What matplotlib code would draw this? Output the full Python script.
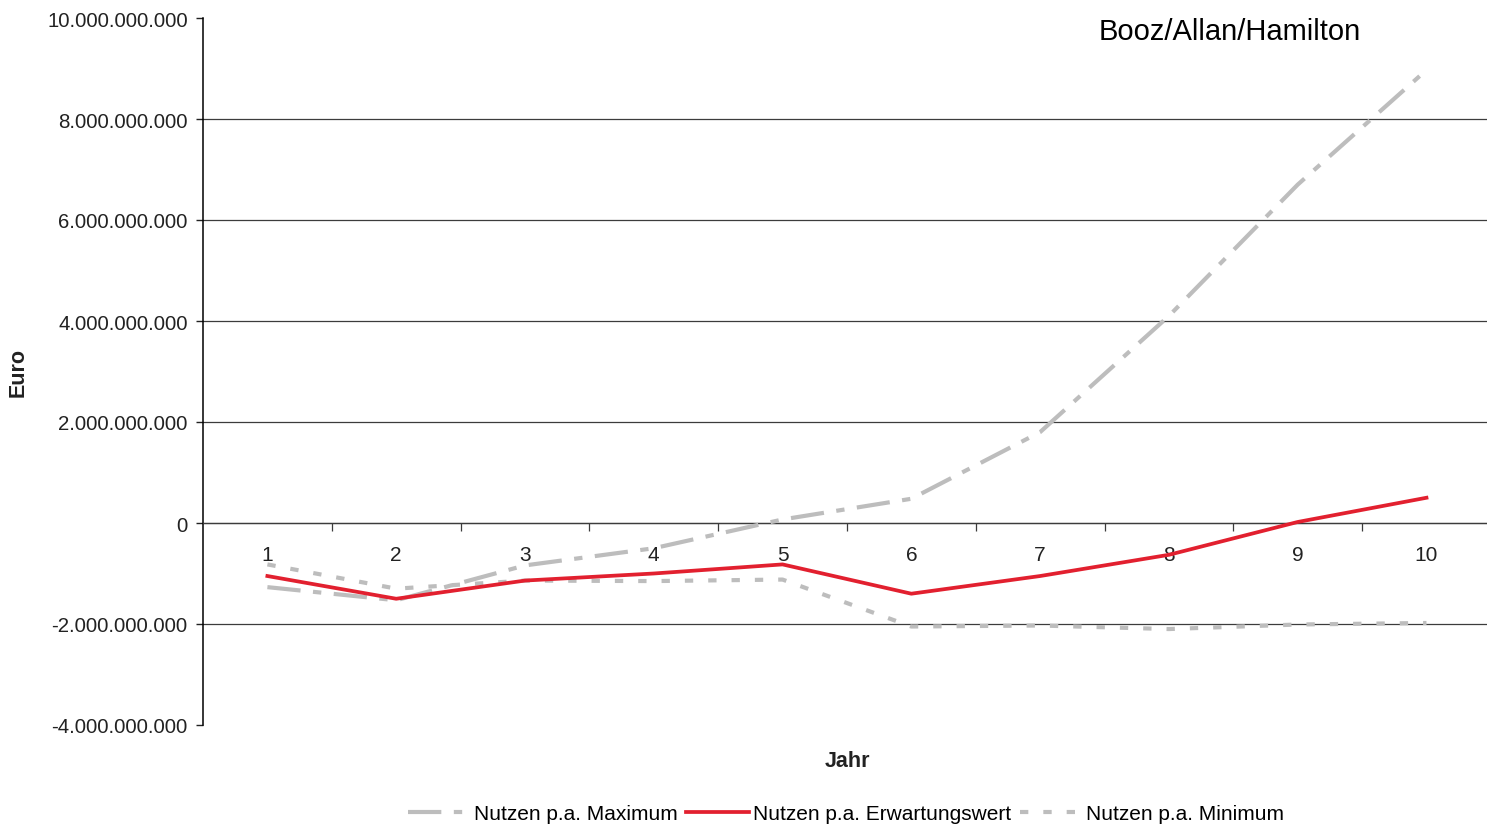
"""Nutzen p.a. (Maximum / Erwartungswert / Minimum) je Jahr."""

import matplotlib
matplotlib.use("Agg")
import matplotlib.pyplot as plt
from matplotlib.ticker import FuncFormatter, FixedLocator

plt.rcParams["font.family"] = ["Liberation Sans", "DejaVu Sans"]

jahre = [1, 2, 3, 4, 5, 6, 7, 8, 9, 10]
nutzen_max = [-1.27e9, -1.53e9, -0.84e9, -0.50e9, 0.07e9, 0.48e9, 1.80e9, 4.10e9, 6.70e9, 8.97e9]
nutzen_erw = [-1.05e9, -1.50e9, -1.14e9, -1.00e9, -0.82e9, -1.40e9, -1.05e9, -0.63e9, 0.02e9, 0.50e9]
nutzen_min = [-0.82e9, -1.30e9, -1.14e9, -1.15e9, -1.12e9, -2.05e9, -2.03e9, -2.10e9, -2.01e9, -1.98e9]
y_ticks = [-4e9, -2e9, 0, 2e9, 4e9, 6e9, 8e9, 10e9]

GRAU = "#bdbdbd"
ROT = "#e2202f"
LINIE = "#3c3c3c"

AX_L, AX_T, AX_B = 203, 19, 726   # Pixelgrenzen der Zeichenflaeche
W, H = 1487, 828


def euro_fmt(v, _pos):
    s = f"{abs(int(round(v))):,}".replace(",", ".")
    return ("-" if v < 0 else "") + s


fig = plt.figure(figsize=(W / 100, H / 100), dpi=100)
ax = fig.add_axes([AX_L / W, 1 - AX_B / H, 1 - AX_L / W, (AX_B - AX_T) / H])

ax.plot(jahre, nutzen_max, color=GRAU, lw=3, linestyle=(0, (8, 3, 2, 3)),
        label="Nutzen p.a. Maximum", zorder=3)
ax.plot(jahre, nutzen_erw, color=ROT, lw=2.7, label="Nutzen p.a. Erwartungswert", zorder=4)
ax.plot(jahre, nutzen_min, color=GRAU, lw=3, linestyle=(0, (2, 3.6)),
        label="Nutzen p.a. Minimum", zorder=3)

ax.set_xlim(0.5, 10.47)
ax.set_ylim(-4e9, 10e9)

# horizontale Gitterlinien (ohne oberste Linie)
for y in y_ticks[1:-1]:
    ax.axhline(y, color=LINIE, lw=0.9, zorder=1)

for side in ["top", "right"]:
    ax.spines[side].set_visible(False)
ax.spines["left"].set_color("black")
ax.spines["left"].set_linewidth(1.1)
ax.spines["bottom"].set_position(("data", 0))
ax.spines["bottom"].set_color(LINIE)
ax.spines["bottom"].set_linewidth(0.9)

ax.yaxis.set_major_locator(FixedLocator(y_ticks))
ax.yaxis.set_major_formatter(FuncFormatter(euro_fmt))
ax.tick_params(axis="y", direction="out", length=5, width=1, pad=6, labelsize=14.7,
               colors="#222222")

ax.set_xticks(jahre)
ax.set_xticklabels([str(j) for j in jahre])
ax.set_xticks([j + 0.5 for j in jahre[:-1]], minor=True)
ax.tick_params(axis="x", which="major", length=0, pad=15.5, labelsize=15, colors="#222222")
ax.tick_params(axis="x", which="minor", direction="out", length=6, width=0.9, color=LINIE)

ax.set_ylabel("Euro", fontsize=15.5, fontweight="bold", color="#222222")
ax.yaxis.set_label_coords(-(AX_L - 29) / (W - AX_L), 0.5)
fig.text(847 / W, 1 - 762 / H, "Jahr", ha="center", va="center",
         fontsize=15.5, fontweight="bold", color="#222222")

fig.text(1230 / W, 1 - 32 / H, "Booz/Allan/Hamilton", ha="center", va="center",
         fontsize=21, color="black")

fig.legend(loc="center", bbox_to_anchor=(846 / W, 1 - 815 / H), ncol=3,
           frameon=False, fontsize=15, handlelength=3.0, handletextpad=0.2,
           columnspacing=0.4)

fig.savefig("out.png", dpi=100)
